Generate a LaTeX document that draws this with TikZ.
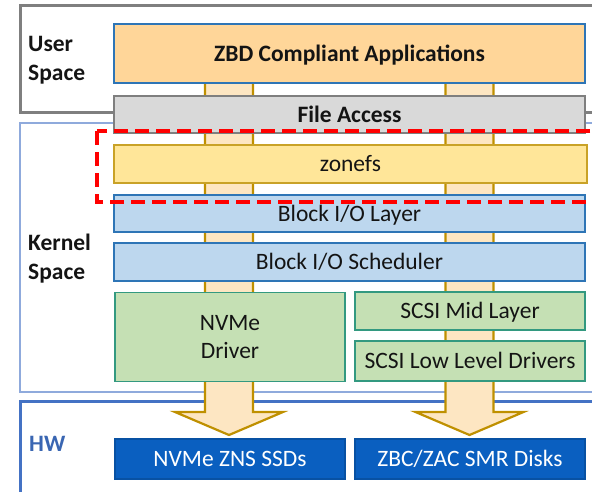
\documentclass[tikz,border=0pt]{standalone}
\usepackage{fontspec}
\setmainfont{Carlito}
\usetikzlibrary{calc}

\definecolor{usergray}{HTML}{7F7F7F}
\definecolor{kernelblue}{HTML}{8FAADC}
\definecolor{hwblue}{HTML}{4472C4}
\definecolor{hwtext}{HTML}{3A66B2}
\definecolor{appfill}{HTML}{FFD699}
\definecolor{layerline}{HTML}{2E75B6}
\definecolor{fafill}{HTML}{D9D9D9}
\definecolor{zfill}{HTML}{FFE699}
\definecolor{zline}{HTML}{C9A227}
\definecolor{blkfill}{HTML}{BDD7EE}
\definecolor{drvfill}{HTML}{C5E0B4}
\definecolor{drvline}{HTML}{339980}
\definecolor{devfill}{HTML}{0A5FC0}
\definecolor{arrfill}{HTML}{FDE6C2}
\definecolor{arrline}{HTML}{BF9000}
\definecolor{txt}{HTML}{141414}

\tikzset{
  region/.style={line width=3pt},
  layer/.style={draw=layerline, line width=1.5pt, inner sep=0pt, text=txt,
    font=\fontsize{23.5}{28.5}\selectfont, align=center,
    text height=17pt, text depth=2pt},
  layerbold/.style={layer, font=\fontsize{23.5}{28.5}\selectfont\bfseries},
  drv/.style={layer, fill=drvfill, draw=drvline, minimum width=230pt},
  dev/.style={layer, fill=devfill, draw=devfill!85!black, text=white, minimum width=230pt, minimum height=40pt},
  sidelabel/.style={anchor=west, inner sep=0pt, align=left, text=txt,
    font=\fontsize{23.5}{28.5}\selectfont\bfseries},
  bigarrow/.style={fill=arrfill, draw=arrline, line width=2.2pt, line join=miter},
  focus/.style={draw=red, line width=4pt, dash pattern=on 14pt off 7pt},
}

% wide hollow arrow pointing down, from a top coordinate to a tip coordinate
\newcommand\flowarrow[2]{%
  \draw[bigarrow] ($(#1)+(-24,0)$) -- ($(#2)+(-24,-23)$) -- ($(#2)+(-54,-23)$)
    -- (#2) -- ($(#2)+(54,-23)$) -- ($(#2)+(24,-23)$) -- ($(#1)+(24,0)$) -- cycle;}

\begin{document}
\begin{tikzpicture}[x=1pt, y=-1pt]
  \useasboundingbox (0,0) rectangle (592,491);
  \begin{scope}
    \clip (0,0) rectangle (592,491);

    % privilege regions
    \draw[region, draw=usergray] (20,5) rectangle (620,112);
    \draw[region, draw=kernelblue, line width=2.5pt] (20,123) rectangle (620,392);
    \draw[region, draw=hwblue] (20,401) rectangle (620,520);

    \node[sidelabel] (lbl-user) at (28,60) {User\\Space};
    \node[sidelabel] (lbl-kernel) at (28,258.5) {Kernel\\Space};
    \node[sidelabel, text=hwtext] (lbl-hw) at (29,444) {HW};

    % I/O paths
    \coordinate (pathA-top) at (229,70);
    \coordinate (pathA-tip) at (229,435);
    \coordinate (pathB-top) at (469.5,70);
    \coordinate (pathB-tip) at (469.5,435);
    \flowarrow{pathA-top}{pathA-tip}
    \flowarrow{pathB-top}{pathB-tip}

    % software stack
    \node[layerbold, fill=appfill, minimum width=471pt, minimum height=59pt]
      (apps) at (349.5,53.5) {ZBD Compliant Applications};
    \node[layerbold, fill=fafill, draw=usergray, minimum width=471pt, minimum height=37pt]
      (fa) at (349.5,114.5) {File Access};
    \node[layer, fill=zfill, draw=zline, minimum width=473pt, minimum height=38pt]
      (zonefs) at (350.5,164) {zonefs};
    \node[layer, fill=blkfill, minimum width=471pt, minimum height=37pt]
      (blk) at (349.5,213.5) {Block I/O Layer};
    \node[layer, fill=blkfill, minimum width=471pt, minimum height=38pt]
      (sched) at (349.5,262) {Block I/O Scheduler};
    \node[drv, minimum height=89pt, text height=, text depth=] (nvme) at (230,337) {NVMe\\Driver};
    \node[drv, minimum height=38pt] (scsimid) at (470,311) {SCSI Mid Layer};
    \node[drv, minimum height=40pt] (scsilow) at (470,361) {SCSI Low Level Drivers};

    % devices
    \node[dev] (zns) at (230,459) {NVMe ZNS SSDs};
    \node[dev] (smr) at (470,459) {ZBC/ZAC SMR Disks};

    % highlighted layer
    \draw[focus] (97,131) rectangle (640,202);
  \end{scope}
\end{tikzpicture}
\end{document}
